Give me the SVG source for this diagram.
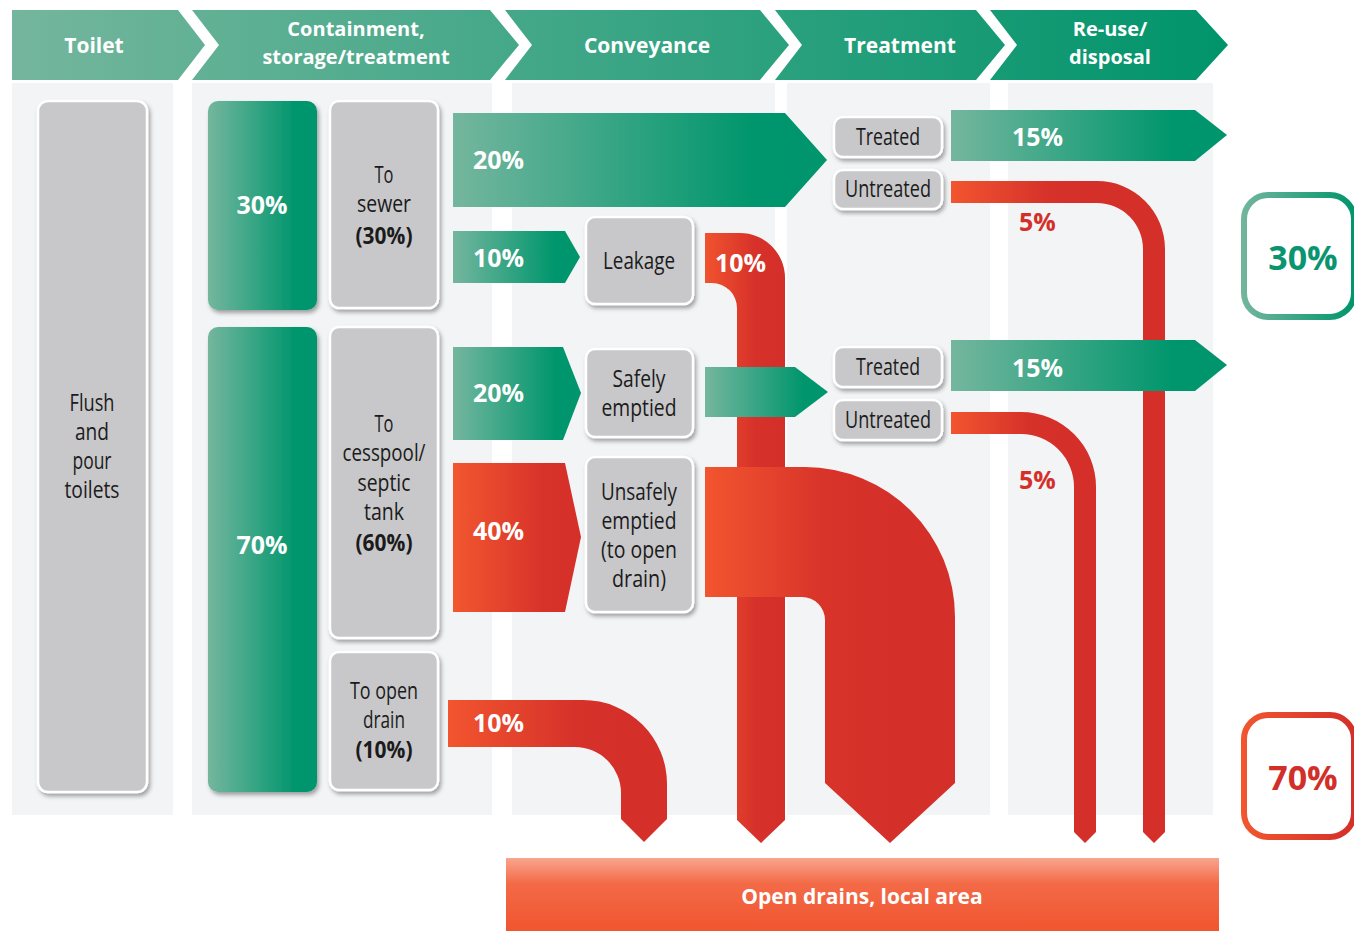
<svg xmlns="http://www.w3.org/2000/svg" width="1354" height="931" viewBox="0 0 1354 931">
<defs>
<linearGradient id="gHead" gradientUnits="userSpaceOnUse" x1="12" y1="0" x2="1228" y2="0"><stop offset="0" stop-color="#74b69d"/><stop offset="1" stop-color="#00946b"/></linearGradient>
<linearGradient id="gG" x1="0" y1="0" x2="1" y2="0"><stop offset="0" stop-color="#74b69e"/><stop offset="0.8" stop-color="#00966d"/><stop offset="1" stop-color="#00956c"/></linearGradient>
<linearGradient id="gR" x1="0" y1="0" x2="1" y2="0"><stop offset="0" stop-color="#f2572f"/><stop offset="0.7" stop-color="#d8332a"/><stop offset="1" stop-color="#d42f29"/></linearGradient>
<linearGradient id="gLeak" gradientUnits="userSpaceOnUse" x1="705" y1="0" x2="790" y2="0"><stop offset="0" stop-color="#f0532e"/><stop offset="0.6" stop-color="#d6312a"/><stop offset="1" stop-color="#d32e29"/></linearGradient>
<linearGradient id="gBig" gradientUnits="userSpaceOnUse" x1="705" y1="0" x2="900" y2="0"><stop offset="0" stop-color="#f2552f"/><stop offset="0.6" stop-color="#d8342a"/><stop offset="1" stop-color="#d42f29"/></linearGradient>
<linearGradient id="gDrain" gradientUnits="userSpaceOnUse" x1="448" y1="0" x2="630" y2="0"><stop offset="0" stop-color="#f2552f"/><stop offset="0.7" stop-color="#d6322a"/><stop offset="1" stop-color="#d42f29"/></linearGradient>
<linearGradient id="gU1" gradientUnits="userSpaceOnUse" x1="951" y1="0" x2="1090" y2="0"><stop offset="0" stop-color="#f2552f"/><stop offset="0.7" stop-color="#d6322a"/><stop offset="1" stop-color="#d42f29"/></linearGradient>
<linearGradient id="gU2" gradientUnits="userSpaceOnUse" x1="951" y1="0" x2="1060" y2="0"><stop offset="0" stop-color="#f2552f"/><stop offset="0.7" stop-color="#d6322a"/><stop offset="1" stop-color="#d42f29"/></linearGradient>
<linearGradient id="gBar" x1="0" y1="0" x2="0" y2="1"><stop offset="0" stop-color="#f9a58e"/><stop offset="0.35" stop-color="#f36a47"/><stop offset="1" stop-color="#f0552f"/></linearGradient>
<linearGradient id="gGS" gradientUnits="userSpaceOnUse" x1="1240" y1="0" x2="1354" y2="0"><stop offset="0" stop-color="#74b69e"/><stop offset="1" stop-color="#00956c"/></linearGradient>
<linearGradient id="gRS" gradientUnits="userSpaceOnUse" x1="1240" y1="0" x2="1354" y2="0"><stop offset="0" stop-color="#f2572f"/><stop offset="1" stop-color="#d42f29"/></linearGradient>
<filter id="sh" x="-20%" y="-10%" width="140%" height="130%"><feDropShadow dx="2" dy="3" stdDeviation="2.2" flood-color="#000" flood-opacity="0.35"/></filter>
<style>
.hd{font-family:"Open Sans","Noto Sans",sans-serif;font-weight:700;font-size:21px;fill:#fff;text-anchor:middle}
.hd2{font-family:"Open Sans","Noto Sans",sans-serif;font-weight:700;font-size:20px;fill:#fff;text-anchor:middle}
.lb{font-family:"Open Sans","Noto Sans",sans-serif;font-size:23px;fill:#1b1b1b;text-anchor:middle}
.lbb{font-family:"Open Sans","Noto Sans",sans-serif;font-weight:700;font-size:23px;fill:#1b1b1b;text-anchor:middle}
.pc{font-family:"Open Sans","Noto Sans",sans-serif;font-weight:700;font-size:25px;fill:#fff}
.pcm{font-family:"Open Sans","Noto Sans",sans-serif;font-weight:700;font-size:25px;fill:#fff;text-anchor:middle}
.red5{font-family:"Open Sans","Noto Sans",sans-serif;font-weight:700;font-size:25px;fill:#d3302a}
.big{font-family:"Open Sans","Noto Sans",sans-serif;font-weight:700;font-size:34px;text-anchor:middle}
.grey{fill:#c8c8ca;stroke:#fff;stroke-width:2.5;filter:url(#sh)}
.gbox{fill:url(#gG);filter:url(#sh)}
.col{fill:#f3f4f6}
</style>
</defs>
<rect width="1354" height="931" fill="#fff"/>

<g id="columns">
<rect class="col" x="12" y="83" width="161" height="732"/>
<rect class="col" x="192" y="83" width="300" height="732"/>
<rect class="col" x="512" y="83" width="263" height="732"/>
<rect class="col" x="787" y="83" width="203" height="732"/>
<rect class="col" x="1008" y="83" width="205" height="732"/>
</g>

<g id="header">
<path d="M12,10 H178 L205,45 L178,80 H12 Z" fill="url(#gHead)"/>
<path d="M192,10 H490 L519,45 L490,80 H192 L219,45 Z" fill="url(#gHead)"/>
<path d="M505,10 H760 L789,45 L760,80 H505 L532,45 Z" fill="url(#gHead)"/>
<path d="M775,10 H976 L1005,45 L976,80 H775 L802,45 Z" fill="url(#gHead)"/>
<path d="M990,10 H1196 L1228,45 L1196,80 H990 L1017,45 Z" fill="url(#gHead)"/>
<text class="hd" x="94" y="53">Toilet</text>
<text class="hd2" x="356" y="35.5">Containment,</text>
<text class="hd2" x="356" y="63.5">storage/treatment</text>
<text class="hd" x="647" y="53">Conveyance</text>
<text class="hd" x="900" y="53">Treatment</text>
<text class="hd2" x="1110" y="35.5">Re-use/</text>
<text class="hd2" x="1110" y="63.5">disposal</text>
</g>

<g id="connectors">
<path id="pipe-leak" d="M705,233 H740 A45,45 0 0 1 785,278 V820 L761,843 L737,820 V308 A25,25 0 0 0 712,283 H705 Z" fill="url(#gLeak)"/>
<path id="pipe-big" d="M705,467 H805 A150,150 0 0 1 955,617 V783 L890,843 L825,783 V620 A23,23 0 0 0 802,597 H705 Z" fill="url(#gBig)"/>
<path id="pipe-drain" d="M448,700 H583 A84,84 0 0 1 667,784 V819 L644,842 L621,819 V793 A46,46 0 0 0 575,747 H448 Z" fill="url(#gDrain)"/>
<path id="pipe-u1" d="M951,181 H1097 A68,68 0 0 1 1165,249 V832 L1154,843 L1143,832 V249 A46,46 0 0 0 1097,203 H951 Z" fill="url(#gU1)"/>
<path id="pipe-u2" d="M951,412 H1021 A75,75 0 0 1 1096,487 V832 L1085,843 L1074,832 V487 A53,53 0 0 0 1021,434 H951 Z" fill="url(#gU2)"/>
<path id="arrow-20a" d="M453,113 H785 L827,160 L785,207 H453 Z" fill="url(#gG)"/>
<path id="arrow-10a" d="M453,231 H565 L580,257 L565,283 H453 Z" fill="url(#gG)"/>
<path id="arrow-20b" d="M453,347 H563 L581,393 L563,440 H453 Z" fill="url(#gG)"/>
<path id="arrow-40" d="M453,463 H565 L581,537 L565,612 H453 Z" fill="url(#gR)"/>
<path id="arrow-safe" d="M705,367 H795 L828,392 L795,417 H705 Z" fill="url(#gG)"/>
<path id="arrow-15a" d="M951,110 H1195 L1227,135 L1195,161 H951 Z" fill="url(#gG)"/>
<path id="arrow-15b" d="M951,340 H1195 L1227,365 L1195,391 H951 Z" fill="url(#gG)"/>
<text class="pc" x="473" y="169">20%</text>
<text class="pc" x="473" y="267">10%</text>
<text class="pc" x="473" y="402">20%</text>
<text class="pc" x="473" y="540">40%</text>
<text class="pc" x="473" y="732">10%</text>
<text class="pc" x="715" y="272">10%</text>
<text class="pc" x="1012" y="146">15%</text>
<text class="pc" x="1012" y="377">15%</text>
<text class="red5" x="1019" y="231">5%</text>
<text class="red5" x="1019" y="489">5%</text>
</g>

<g id="node-toilet">
<rect class="grey" x="38" y="101" width="109" height="691" rx="10"/>
<text class="lb" x="92" y="411" textLength="45" lengthAdjust="spacingAndGlyphs">Flush</text>
<text class="lb" x="92" y="440" textLength="34" lengthAdjust="spacingAndGlyphs">and</text>
<text class="lb" x="92" y="469" textLength="39" lengthAdjust="spacingAndGlyphs">pour</text>
<text class="lb" x="92" y="498" textLength="55" lengthAdjust="spacingAndGlyphs">toilets</text>
</g>

<g id="node-30">
<rect class="gbox" x="208" y="101" width="109" height="209" rx="10"/>
<text class="pcm" x="262" y="214">30%</text>
</g>
<g id="node-70">
<rect class="gbox" x="208" y="327" width="109" height="465" rx="10"/>
<text class="pcm" x="262" y="554">70%</text>
</g>

<g id="node-sewer">
<rect class="grey" x="330" y="101" width="108" height="207" rx="9"/>
<text class="lb" x="384" y="183" textLength="19" lengthAdjust="spacingAndGlyphs">To</text>
<text class="lb" x="384" y="212" textLength="54" lengthAdjust="spacingAndGlyphs">sewer</text>
<text class="lbb" x="384" y="244" textLength="57" lengthAdjust="spacingAndGlyphs">(30%)</text>
</g>

<g id="node-cesspool">
<rect class="grey" x="330" y="327" width="108" height="311" rx="9"/>
<text class="lb" x="384" y="432" textLength="19" lengthAdjust="spacingAndGlyphs">To</text>
<text class="lb" x="384" y="461" textLength="83" lengthAdjust="spacingAndGlyphs">cesspool/</text>
<text class="lb" x="384" y="491" textLength="53" lengthAdjust="spacingAndGlyphs">septic</text>
<text class="lb" x="384" y="520" textLength="40" lengthAdjust="spacingAndGlyphs">tank</text>
<text class="lbb" x="384" y="551" textLength="57" lengthAdjust="spacingAndGlyphs">(60%)</text>
</g>

<g id="node-opendrain">
<rect class="grey" x="330" y="652" width="108" height="138" rx="9"/>
<text class="lb" x="384" y="699" textLength="68" lengthAdjust="spacingAndGlyphs">To open</text>
<text class="lb" x="384" y="728" textLength="42" lengthAdjust="spacingAndGlyphs">drain</text>
<text class="lbb" x="384" y="758" textLength="57" lengthAdjust="spacingAndGlyphs">(10%)</text>
</g>

<g id="node-leakage">
<rect class="grey" x="586" y="217" width="107" height="87" rx="9"/>
<text class="lb" x="639" y="269" textLength="72" lengthAdjust="spacingAndGlyphs">Leakage</text>
</g>

<g id="node-safely">
<rect class="grey" x="586" y="349" width="107" height="88" rx="9"/>
<text class="lb" x="639" y="387" textLength="53" lengthAdjust="spacingAndGlyphs">Safely</text>
<text class="lb" x="639" y="416" textLength="75" lengthAdjust="spacingAndGlyphs">emptied</text>
</g>

<g id="node-unsafely">
<rect class="grey" x="586" y="457" width="107" height="155" rx="9"/>
<text class="lb" x="639" y="500" textLength="76" lengthAdjust="spacingAndGlyphs">Unsafely</text>
<text class="lb" x="639" y="529" textLength="75" lengthAdjust="spacingAndGlyphs">emptied</text>
<text class="lb" x="639" y="558" textLength="76" lengthAdjust="spacingAndGlyphs">(to open</text>
<text class="lb" x="639" y="587" textLength="54" lengthAdjust="spacingAndGlyphs">drain)</text>
</g>

<g id="node-treated1">
<rect class="grey" x="834" y="117" width="108" height="40" rx="9"/>
<text class="lb" x="888" y="145" textLength="64" lengthAdjust="spacingAndGlyphs">Treated</text>
</g>
<g id="node-untreated1">
<rect class="grey" x="834" y="170" width="108" height="39" rx="9"/>
<text class="lb" x="888" y="197" textLength="86" lengthAdjust="spacingAndGlyphs">Untreated</text>
</g>
<g id="node-treated2">
<rect class="grey" x="834" y="347" width="108" height="40" rx="9"/>
<text class="lb" x="888" y="375" textLength="64" lengthAdjust="spacingAndGlyphs">Treated</text>
</g>
<g id="node-untreated2">
<rect class="grey" x="834" y="400" width="108" height="40" rx="9"/>
<text class="lb" x="888" y="428" textLength="86" lengthAdjust="spacingAndGlyphs">Untreated</text>
</g>

<g id="node-total30">
<rect x="1244" y="195" width="110" height="122" rx="24" fill="#fff" stroke="url(#gGS)" stroke-width="6"/>
<text class="big" x="1303" y="270" fill="#0a9570">30%</text>
</g>
<g id="node-total70">
<rect x="1244" y="715" width="110" height="122" rx="24" fill="#fff" stroke="url(#gRS)" stroke-width="6"/>
<text class="big" x="1303" y="790" fill="#d1302a">70%</text>
</g>

<g id="node-opendrains">
<rect x="506" y="858" width="713" height="73" fill="url(#gBar)"/>
<text class="hd" x="862" y="904">Open drains, local area</text>
</g>
</svg>
